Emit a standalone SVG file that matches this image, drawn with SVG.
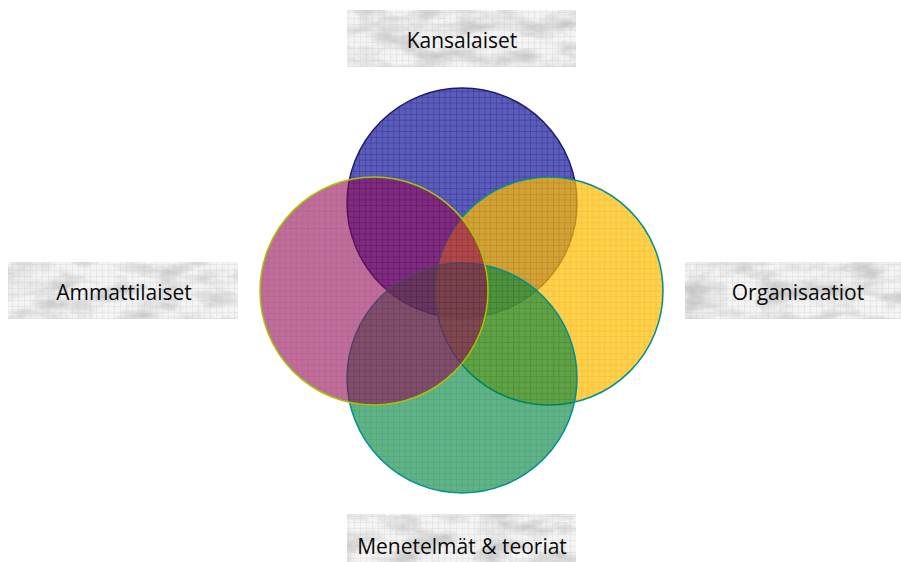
<svg xmlns="http://www.w3.org/2000/svg" width="901" height="562" viewBox="0 0 901 562">
<style>
.lbl{font-family:"Open Sans","Liberation Sans",sans-serif;font-size:21px;fill:#0a0a0a;text-anchor:middle}
.boxg{fill:url(#lgrid)}
.c{stroke-width:1.5}
</style>
<defs>
<filter id="tex" x="0" y="0" width="100%" height="100%">
<feTurbulence type="fractalNoise" baseFrequency="0.025 0.06" numOctaves="4" seed="7"/>
<feColorMatrix type="matrix" values="0 0 0 0 0.5  0 0 0 0 0.5  0 0 0 0 0.5  0 0 0 -1.8 1.1"/>
</filter>
<pattern id="lgrid" width="6" height="6" patternUnits="userSpaceOnUse">
<path d="M6 0H0V6" fill="none" stroke="#cdcdcd" stroke-width="0.6"/>
</pattern>
<pattern id="pBlue" width="5.7" height="5.7" patternUnits="userSpaceOnUse">
<rect width="5.7" height="5.7" fill="#5c5cbc"/>
<path d="M5.7 0H0V5.7" fill="none" stroke="#34348c" stroke-width="1"/>
</pattern>
<pattern id="pPink" width="5.7" height="5.7" patternUnits="userSpaceOnUse">
<rect width="5.7" height="5.7" fill="#980a5a"/>
<path d="M5.7 0H0V5.7" fill="none" stroke="#6a0030" stroke-width="1"/>
</pattern>
<pattern id="pYel" width="5.7" height="5.7" patternUnits="userSpaceOnUse">
<rect width="5.7" height="5.7" fill="#ffbf00"/>
<path d="M5.7 0H0V5.7" fill="none" stroke="#ea9a00" stroke-width="1"/>
</pattern>
<pattern id="pGrn" width="5.7" height="5.7" patternUnits="userSpaceOnUse">
<rect width="5.7" height="5.7" fill="#008a44"/>
<path d="M5.7 0H0V5.7" fill="none" stroke="#006028" stroke-width="1"/>
</pattern>
</defs>
<rect width="901" height="562" fill="#fff"/>

<g id="circle-kansalaiset">
<circle cx="462" cy="203" r="115" fill="url(#pBlue)" stroke="#1c1c70" stroke-width="1.5"/>
</g>
<g id="circle-organisaatiot">
<circle class="c" cx="549" cy="291" r="114" fill="url(#pYel)" fill-opacity="0.72" stroke="#009090"/>
</g>
<g id="circle-menetelmat">
<circle class="c" cx="462" cy="378" r="115" fill="url(#pGrn)" fill-opacity="0.64" stroke="#009090"/>
</g>
<g id="circle-ammattilaiset">
<circle class="c" cx="374" cy="291" r="114" fill="url(#pPink)" fill-opacity="0.6" stroke="#a8c400"/>
</g>

<g id="label-kansalaiset">
<rect x="347" y="10" width="229" height="57" fill="#f4f4f4"/>
<rect x="347" y="10" width="229" height="57" filter="url(#tex)"/>
<rect x="347" y="10" width="229" height="57" class="boxg"/>
<text class="lbl" x="462" y="48">Kansalaiset</text>
</g>
<g id="label-ammattilaiset">
<rect x="8" y="262" width="230" height="57" fill="#f4f4f4"/>
<rect x="8" y="262" width="230" height="57" filter="url(#tex)"/>
<rect x="8" y="262" width="230" height="57" class="boxg"/>
<text class="lbl" x="124" y="300">Ammattilaiset</text>
</g>
<g id="label-organisaatiot">
<rect x="685" y="262" width="216" height="57" fill="#f4f4f4"/>
<rect x="685" y="262" width="216" height="57" filter="url(#tex)"/>
<rect x="685" y="262" width="216" height="57" class="boxg"/>
<text class="lbl" x="798" y="300">Organisaatiot</text>
</g>
<g id="label-menetelmat">
<rect x="347" y="514" width="229" height="48" fill="#f4f4f4"/>
<rect x="347" y="514" width="229" height="48" filter="url(#tex)"/>
<rect x="347" y="514" width="229" height="48" class="boxg"/>
<text class="lbl" x="462" y="554">Menetelmät &amp; teoriat</text>
</g>
<g id="connectors"/>
</svg>
